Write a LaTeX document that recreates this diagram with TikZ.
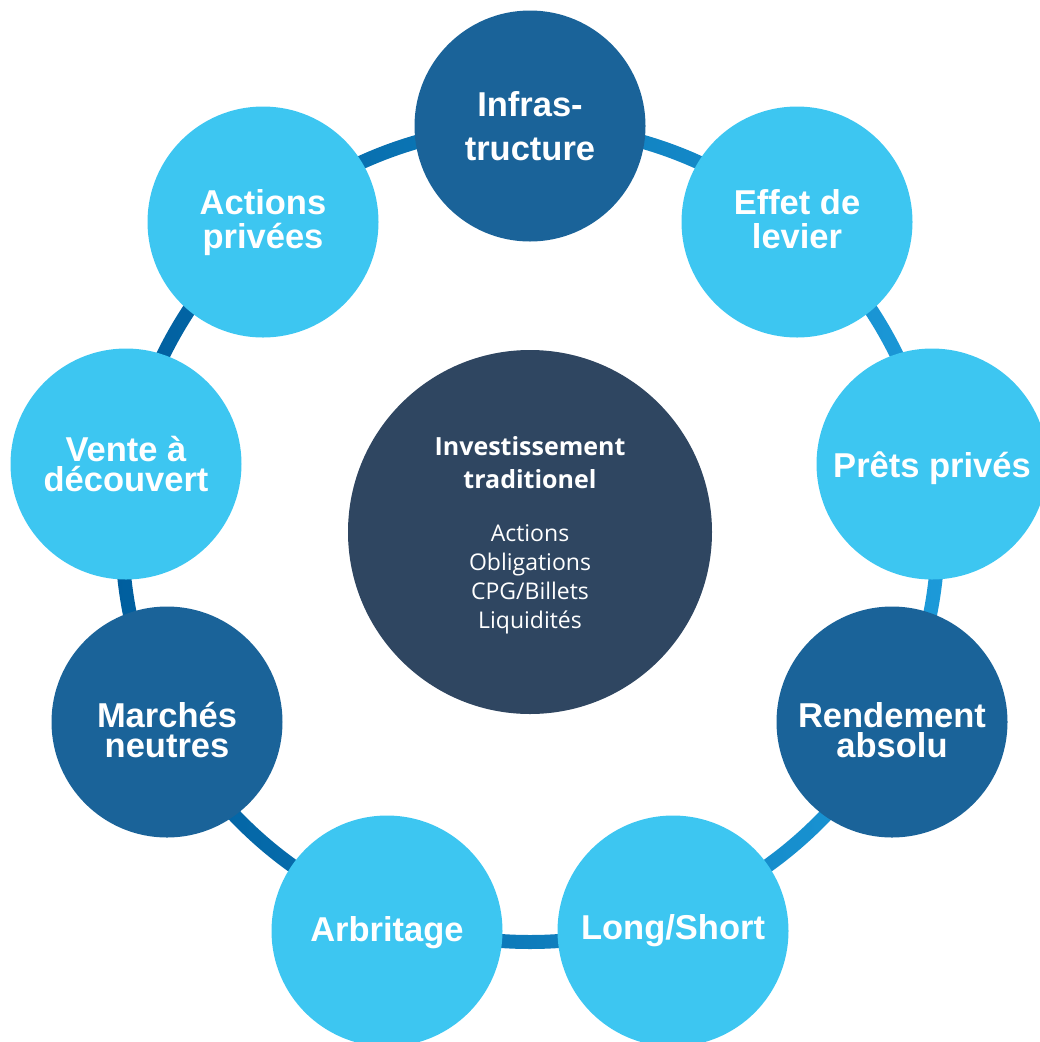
\documentclass[tikz,border=0pt]{standalone}
\usepackage{fontspec}
\setmainfont{Liberation Sans}
\newfontfamily\hubfont{Open Sans}

\definecolor{lightcirc}{HTML}{3DC6F1}
\definecolor{darkcirc}{HTML}{1A6399}
\definecolor{hubfill}{HTML}{2F4661}
\definecolor{ringleft}{HTML}{005E9E}
\definecolor{ringright}{HTML}{1C9AD9}

\tikzset{
  ball/.style={circle, minimum size=231pt, inner sep=0pt},
  lightball/.style={ball, fill=lightcirc},
  darkball/.style={ball, fill=darkcirc},
  hubball/.style={circle, minimum size=364pt, inner sep=0pt, fill=hubfill},
  tag/.style={inner sep=0pt, text=white, align=center,
    font=\fontsize{34.5}{30}\selectfont\bfseries},
  hubtag/.style={inner sep=0pt, text=white,
    font=\hubfont\fontsize{23}{29}\selectfont},
}

\begin{document}
\begin{tikzpicture}[x=1pt,y=-1pt]
\useasboundingbox (0,0) rectangle (1040,1042);

% ring behind the outer circles, shaded from dark (left) to bright (right)
\coordinate (ringc) at (530,534);
\shade[left color=ringleft, right color=ringright, even odd rule]
  (ringc) circle[radius=415pt] (ringc) circle[radius=401pt];

% outer circles
\node[darkball]  (infra)     at (530,126) {};
\node[lightball] (effet)     at (797,222) {};
\node[lightball] (prets)     at (932,464) {};
\node[darkball]  (rend)      at (892,722) {};
\node[lightball] (longshort) at (673,931) {};
\node[lightball] (arb)       at (387,931) {};
\node[darkball]  (march)     at (167,722) {};
\node[lightball] (vente)     at (126,464) {};
\node[lightball] (actp)      at (263,222) {};

% their labels
\node[tag, font=\fontsize{34.5}{44}\selectfont\bfseries] (infra-t) at (infra) {Infras-\\tructure};
\node[tag, font=\fontsize{34.5}{34}\selectfont\bfseries, yshift=3pt] (effet-t) at (effet) {Effet de\\levier};
\node[tag, yshift=-4pt] (prets-t) at (prets) {Prêts privés};
\node[tag, yshift=-8pt] (rend-t) at (rend) {Rendement\\absolu};
\node[tag] (longshort-t) at (longshort) {Long/Short};
\node[tag, yshift=-2pt] (arb-t) at (arb) {Arbritage};
\node[tag, yshift=-8pt] (march-t) at (march) {Marchés\\neutres};
\node[tag] (vente-t) at (vente) {Vente à\\découvert};
\node[tag, font=\fontsize{34.5}{34}\selectfont\bfseries, yshift=-1pt] (actp-t) at (actp) {Actions\\privées};

% centre circle
\node[hubball] (hub) at (530,532) {};
\node[hubtag, yshift=-4pt] (hub-t) at (hub) {%
  \setlength{\tabcolsep}{0pt}%
  \begin{tabular}{c}
    \fontsize{25}{29}\selectfont\bfseries Investissement\\[4pt]
    \fontsize{25}{29}\selectfont\bfseries traditionel\\[24pt]
    Actions\\
    Obligations\\
    CPG/Billets\\
    Liquidités
  \end{tabular}};
\end{tikzpicture}
\end{document}
